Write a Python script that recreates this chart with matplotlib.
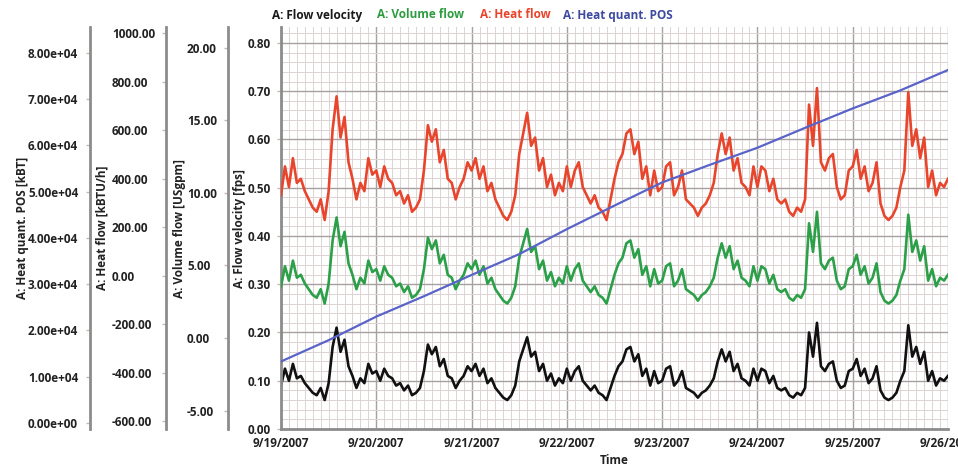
import numpy as np
import pandas as pd
import matplotlib
matplotlib.use("Agg")
import matplotlib.pyplot as plt
import matplotlib.dates as mdates
from matplotlib.ticker import MultipleLocator, FormatStrFormatter, FuncFormatter

plt.rcParams["font.family"] = ["Open Sans", "DejaVu Sans"]
plt.rcParams["font.weight"] = "bold"
plt.rcParams["axes.labelweight"] = "bold"

# hourly readings, 9/19/2007 00:00 .. 9/26/2007 00:00
start = "2007-09-19 00:00"

flow_velocity = [  # fps
    0.09, 0.125, 0.10, 0.135, 0.105, 0.11, 0.095, 0.085, 0.075, 0.07, 0.085, 0.06,
    0.095, 0.17, 0.21, 0.16, 0.185, 0.13, 0.11, 0.085, 0.105, 0.095, 0.135, 0.115,
    0.12, 0.10, 0.125, 0.11, 0.105, 0.09, 0.095, 0.08, 0.09, 0.07, 0.075, 0.085,
    0.12, 0.175, 0.155, 0.17, 0.13, 0.145, 0.11, 0.105, 0.085, 0.10, 0.11, 0.13,
    0.12, 0.135, 0.11, 0.125, 0.095, 0.105, 0.085, 0.075, 0.065, 0.06, 0.07, 0.09,
    0.14, 0.165, 0.19, 0.15, 0.16, 0.12, 0.135, 0.10, 0.115, 0.09, 0.105, 0.095,
    0.125, 0.10, 0.12, 0.13, 0.10, 0.09, 0.08, 0.09, 0.075, 0.07, 0.06, 0.085,
    0.11, 0.13, 0.14, 0.165, 0.17, 0.14, 0.155, 0.11, 0.125, 0.09, 0.12, 0.095,
    0.10, 0.125, 0.13, 0.09, 0.10, 0.12, 0.085, 0.08, 0.075, 0.065, 0.075, 0.08,
    0.09, 0.105, 0.14, 0.165, 0.14, 0.16, 0.12, 0.135, 0.105, 0.10, 0.09, 0.125,
    0.10, 0.125, 0.12, 0.095, 0.11, 0.085, 0.08, 0.085, 0.07, 0.065, 0.075, 0.07,
    0.085, 0.20, 0.15, 0.22, 0.13, 0.12, 0.135, 0.14, 0.10, 0.085, 0.09, 0.12,
    0.125, 0.145, 0.11, 0.125, 0.095, 0.105, 0.13, 0.08, 0.065, 0.06, 0.065, 0.075,
    0.10, 0.12, 0.215, 0.15, 0.17, 0.135, 0.16, 0.10, 0.12, 0.09, 0.105, 0.10, 0.11,
]

volume_flow = [  # USgpm
    3.56, 4.94, 3.95, 5.33, 4.15, 4.35, 3.75, 3.36, 2.96, 2.77, 3.36, 2.37,
    3.75, 6.72, 8.30, 6.32, 7.31, 5.14, 4.35, 3.36, 4.15, 3.75, 5.33, 4.54,
    4.74, 3.95, 4.94, 4.35, 4.15, 3.56, 3.75, 3.16, 3.56, 2.77, 2.96, 3.36,
    4.74, 6.91, 6.12, 6.72, 5.14, 5.73, 4.35, 4.15, 3.36, 3.95, 4.35, 5.14,
    4.74, 5.33, 4.35, 4.94, 3.75, 4.15, 3.36, 2.96, 2.57, 2.37, 2.77, 3.56,
    5.53, 6.52, 7.51, 5.93, 6.32, 4.74, 5.33, 3.95, 4.54, 3.56, 4.15, 3.75,
    4.94, 3.95, 4.74, 5.14, 3.95, 3.56, 3.16, 3.56, 2.96, 2.77, 2.37, 3.36,
    4.35, 5.14, 5.53, 6.52, 6.72, 5.53, 6.12, 4.35, 4.94, 3.56, 4.74, 3.75,
    3.95, 4.94, 5.14, 3.56, 3.95, 4.74, 3.36, 3.16, 2.96, 2.57, 2.96, 3.16,
    3.56, 4.15, 5.53, 6.52, 5.53, 6.32, 4.74, 5.33, 4.15, 3.95, 3.56, 4.94,
    3.95, 4.94, 4.74, 3.75, 4.35, 3.36, 3.16, 3.36, 2.77, 2.57, 2.96, 2.77,
    3.36, 7.90, 5.93, 8.69, 5.14, 4.74, 5.33, 5.53, 3.95, 3.36, 3.56, 4.74,
    4.94, 5.73, 4.35, 4.94, 3.75, 4.15, 5.14, 3.16, 2.57, 2.37, 2.57, 2.96,
    3.95, 4.74, 8.49, 5.93, 6.72, 5.33, 6.32, 3.95, 4.74, 3.56, 4.15, 3.95, 4.35,
]

heat_flow = [  # kBTU/h
    331, 450, 365, 484, 382, 399, 348, 314, 280, 263, 314, 229,
    348, 603, 739, 569, 654, 467, 399, 314, 382, 348, 484, 416,
    433, 365, 450, 399, 382, 331, 348, 297, 331, 263, 280, 314,
    433, 620, 552, 603, 467, 518, 399, 382, 314, 365, 399, 467,
    433, 484, 399, 450, 348, 382, 314, 280, 246, 229, 263, 331,
    501, 586, 671, 535, 569, 433, 484, 365, 416, 331, 382, 348,
    450, 365, 433, 467, 365, 331, 297, 331, 280, 263, 229, 314,
    399, 467, 501, 586, 603, 501, 552, 399, 450, 331, 433, 348,
    365, 450, 467, 331, 365, 433, 314, 297, 280, 246, 280, 297,
    331, 382, 501, 586, 501, 569, 433, 484, 382, 365, 331, 450,
    365, 450, 433, 348, 399, 314, 297, 314, 263, 246, 280, 263,
    314, 705, 535, 773, 467, 433, 484, 501, 365, 314, 331, 433,
    450, 518, 399, 450, 348, 382, 467, 297, 246, 229, 246, 280,
    365, 433, 756, 535, 603, 484, 569, 365, 433, 331, 382, 365, 399,
]

heat_quant_hours = [0, 12, 24, 36, 48, 60, 72, 84, 96, 108, 120, 132, 144, 156, 168]
heat_quant = [13300, 17900, 23000, 27400, 32000, 36500, 41900, 47000,
              52000, 55800, 59500, 63800, 68000, 71900, 76300]  # kBT

times = pd.date_range(start, periods=len(flow_velocity), freq="h")
hq_times = pd.Timestamp(start) + pd.to_timedelta(heat_quant_hours, unit="h")

TXT = "#222222"
SPINE = "#8c8c8c"
FS = 8.5
W = 958.0

fig = plt.figure(figsize=(9.58, 4.72), dpi=100)
ax = fig.add_axes([281 / W, 43 / 472, 667 / W, 402 / 472])

ax_vol = ax.twinx()
ax_heat = ax.twinx()
ax_hq = ax.twinx()


def setup_left(a, spine_px, label_px, pad_px, label, lim, ticks, fmt):
    for s in a.spines.values():
        s.set_visible(False)
    sp = a.spines["left"]
    sp.set_visible(True)
    sp.set_position(("axes", (spine_px - 281) / 667.0))
    sp.set_color(SPINE)
    sp.set_linewidth(2)
    a.yaxis.set_ticks_position("left")
    a.yaxis.set_label_position("left")
    a.set_ylim(*lim)
    a.set_yticks(ticks)
    a.yaxis.set_major_formatter(fmt)
    a.tick_params(axis="y", direction="out", length=3, width=1, color="#c8b8b0",
                  pad=pad_px * 0.72 - 3, labelsize=FS, labelcolor=TXT)
    for t in a.get_yticklabels():
        t.set_horizontalalignment("left")
    a.set_ylabel(label, fontsize=FS, color=TXT)
    a.yaxis.set_label_coords((label_px - 281) / 667.0, 0.5)


# main axis: flow velocity
setup_left(ax, 281, 246, 33, "A: Flow velocity [fps]", (0, 0.833),
           np.arange(0, 0.81, 0.1), FormatStrFormatter("%.2f"))
ax.spines["bottom"].set_visible(True)
ax.spines["bottom"].set_color(SPINE)
ax.spines["bottom"].set_linewidth(2)

setup_left(ax_vol, 228, 186, 41, "A: Volume flow [USgpm]", (-6.27, 21.42),
           np.arange(-5, 20.1, 5), FormatStrFormatter("%.2f"))
setup_left(ax_heat, 166, 108, 54, "A: Heat flow [kBTU/h]", (-633, 1025),
           np.arange(-600, 1001, 200), FormatStrFormatter("%.2f"))
setup_left(ax_hq, 90, 29, 62, "A: Heat quant. POS [kBT]", (-1300, 85600),
           np.arange(0, 80001, 10000), FuncFormatter(lambda v, p: f"{v:.2e}"))

# x axis: days
ax.set_xlim(pd.Timestamp("2007-09-19"), pd.Timestamp("2007-09-26"))
ax.xaxis.set_major_locator(mdates.DayLocator())
ax.xaxis.set_minor_locator(mdates.HourLocator(byhour=range(0, 24, 2)))
ax.xaxis.set_major_formatter(
    FuncFormatter(lambda v, p: "{0.month}/{0.day}/{0.year}".format(mdates.num2date(v))))
ax.yaxis.set_minor_locator(MultipleLocator(0.02))
ax.tick_params(axis="x", which="both", length=0, pad=6, labelsize=FS, labelcolor=TXT)
ax.tick_params(axis="y", which="minor", length=0)
ax.set_xlabel("Time", fontsize=FS, color=TXT, labelpad=3)

ax.grid(True, which="major", color="#a89f9f", linewidth=1.0)
ax.grid(True, which="minor", color="#ddd3d3", linewidth=0.7)
ax.set_axisbelow(True)

lw = 1.9
ax_heat.plot(times, heat_flow, color="#e8452c", lw=lw)
ax_vol.plot(times, volume_flow, color="#2ca048", lw=lw)
ax.plot(times, flow_velocity, color="#111111", lw=lw)
ax_hq.plot(hq_times, heat_quant, color="#5a64c8", lw=1.6)
for a in (ax_vol, ax_heat, ax_hq):
    a.set_xlim(ax.get_xlim())

# legend row at the top
legend = [("A: Flow velocity", "#1a1a1a", 272),
          ("A: Volume flow", "#2e9c40", 377),
          ("A: Heat flow", "#e8452c", 480),
          ("A: Heat quant. POS", "#3d4aa0", 563)]
for txt, col, xpx in legend:
    fig.text(xpx / W, 1 - 15 / 472, txt, color=col, fontsize=FS,
             ha="left", va="center")

fig.savefig("out.png", dpi=100)
